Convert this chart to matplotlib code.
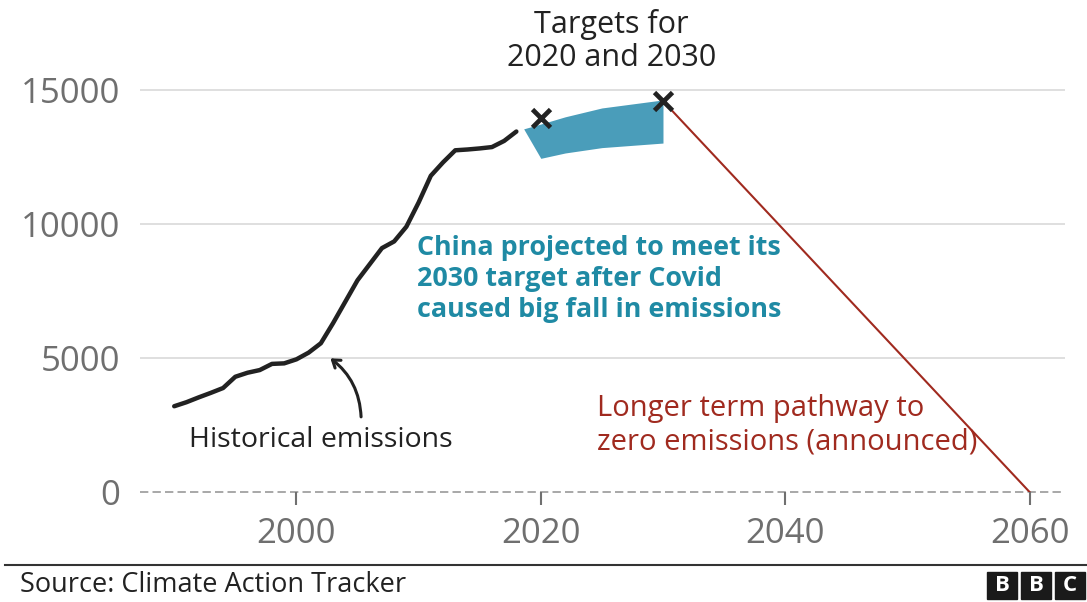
import matplotlib.pyplot as plt
from matplotlib.patches import Rectangle
from matplotlib.lines import Line2D

# ------------------------------
# Data (MtCO2e)
# ------------------------------
hist_years = list(range(1990, 2019))
hist_values = [3200, 3350, 3530, 3700, 3880, 4300, 4450, 4550, 4780, 4800,
               4950, 5200, 5550, 6300, 7100, 7900, 8500, 9100, 9350, 9900,
               10800, 11800, 12300, 12750, 12780, 12820, 12870, 13100, 13450]

band_years = [2018.6, 2020, 2022, 2025, 2030]
band_low = [13550, 12450, 12650, 12850, 13020]
band_high = [13550, 13730, 14000, 14330, 14630]

target_years = [2020, 2030]
target_values = [13950, 14590]

pathway_years = [2030, 2060]
pathway_values = [14590, 0]

x_ticks = [2000, 2020, 2040, 2060]
y_ticks = [0, 5000, 10000, 15000]

# ------------------------------
# Style
# ------------------------------
FONT = ["Open Sans", "DejaVu Sans"]
GREY = "#6f6f6f"
DARK = "#222222"
BLUE_FILL = "#4a9dba"
BLUE_TEXT = "#1f8aa4"
RED = "#a02a1f"

plt.rcParams["font.family"] = FONT

fig = plt.figure(figsize=(10.87, 6.02), dpi=100)
ax = fig.add_axes([140 / 1087, 110 / 602, 925 / 1087, 412 / 602])

ax.set_xlim(1987.2, 2062.9)
ax.set_ylim(0, 15373)

for s in ax.spines.values():
    s.set_visible(False)

# gridlines
for v in y_ticks[1:]:
    ax.axhline(v, color="#d9d9d9", lw=1.2, zorder=0)
ax.axhline(0, color="#9a9a9a", lw=1.2, linestyle=(0, (5, 2.5)), zorder=0,
           clip_on=False)

ax.set_xticks(x_ticks)
ax.set_yticks(y_ticks)
ax.set_xticklabels([str(t) for t in x_ticks])
ax.set_yticklabels([str(t) for t in y_ticks])
ax.tick_params(axis="x", length=9, width=1.5, color="#707070", pad=9,
               labelsize=25, labelcolor=GREY)
ax.tick_params(axis="y", length=0, pad=14, labelsize=25, labelcolor=GREY)

# ------------------------------
# Series
# ------------------------------
ax.fill_between(band_years, band_low, band_high, color=BLUE_FILL, lw=0,
                zorder=2)
ax.plot(hist_years, hist_values, color=DARK, lw=3.2, solid_capstyle="round",
        zorder=3)
ax.plot(pathway_years, pathway_values, color=RED, lw=1.5, zorder=3)
ax.plot(target_years, target_values, linestyle="none", marker="x", ms=13,
        mew=3.4, color=DARK, zorder=4, clip_on=False)

# ------------------------------
# Annotations
# ------------------------------
ax.text(2009.9, 9600, "China projected to meet its\n2030 target after Covid\ncaused big fall in emissions",
        color=BLUE_TEXT, fontsize=19.4, fontweight="bold", va="top", ha="left",
        linespacing=1.25)
ax.text(2025.8, 16830, "Targets for\n2020 and 2030", color=DARK, fontsize=22,
        ha="center", va="center", linespacing=1.1, clip_on=False)
ax.text(1991.2, 1940, "Historical emissions", color=DARK, fontsize=20.5,
        ha="left", va="center")
ax.text(2024.6, 2500, "Longer term pathway to\nzero emissions (announced)",
        color=RED, fontsize=21, ha="left", va="center", linespacing=1.2)
ax.annotate("", xy=(2002.6, 5050), xytext=(2005.3, 2700),
            arrowprops=dict(arrowstyle="->,head_length=0.5,head_width=0.35",
                            color=DARK, lw=2.2,
                            connectionstyle="arc3,rad=0.25"))

# ------------------------------
# Footer
# ------------------------------
fig.add_artist(Line2D([0.005, 1.0], [37 / 602, 37 / 602], color="#333333",
                      lw=1.5))
fig.text(20 / 1087, 17 / 602, "Source: Climate Action Tracker", fontsize=19.5,
         color=DARK, va="center", ha="left")
for i, letter in enumerate("BBC"):
    x0 = (987 + i * 34) / 1087
    fig.add_artist(Rectangle((x0, 3 / 602), 30 / 1087, 27 / 602,
                             transform=fig.transFigure, color="#1a1a1a"))
    fig.text(x0 + 15 / 1087, 16.5 / 602, letter, color="white", fontsize=16,
             fontweight="bold", ha="center", va="center")

fig.savefig("out.png", dpi=100)
